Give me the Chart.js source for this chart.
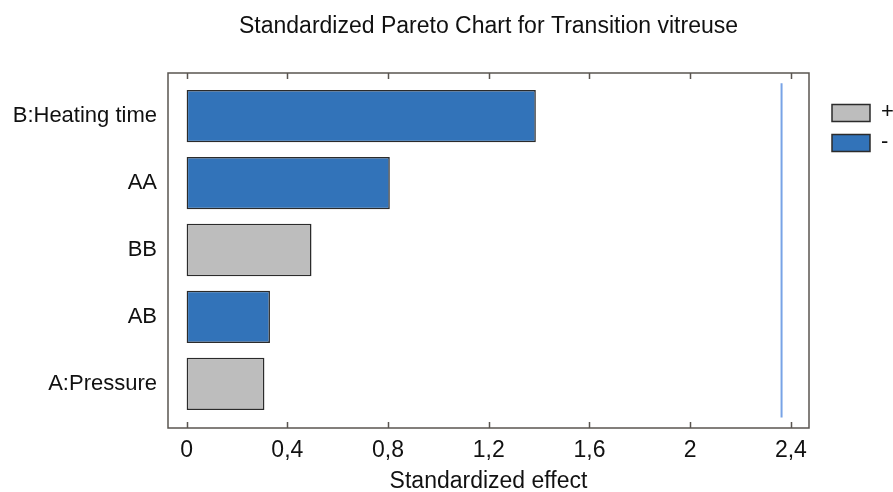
<!DOCTYPE html>
<html>
<head>
<meta charset="utf-8">
<script src="https://cdn.jsdelivr.net/npm/chart.js@4"></script>
<style>
  html, body { margin: 0; padding: 0; background: #fff; }
  #wrap { width: 893px; height: 492px; }
</style>
</head>
<body>
<div id="wrap"><canvas id="canvas" width="893" height="492"></canvas></div>
<script>
// Pareto chart data
var factors = ["B:Heating time", "AA", "BB", "AB", "A:Pressure"];
var effects = [1.387, 0.807, 0.496, 0.331, 0.309];
var signs = ["-", "-", "+", "-", "+"];
var tickValues = [0, 0.4, 0.8, 1.2, 1.6, 2, 2.4];
var criticalEffect = 2.363;
var criticalSpan = [-0.49, 4.5];

var FONT = "'Liberation Sans', Arial, sans-serif";
var colors = { "+": "#bdbdbd", "-": "#3273b9" };

function barData(sign) {
    var pts = [];
    for (var i = 0; i < factors.length; i++) {
        if (signs[i] === sign) pts.push({ x: effects[i], y: i });
    }
    return pts;
}

var barSets = ["+", "-"].map(function (s) {
    return {
        type: "bar",
        label: s,
        data: barData(s),
        backgroundColor: colors[s],
        borderColor: "#2b2b2b",
        borderWidth: 1.5,
        borderSkipped: false,
        grouped: false,
        barPercentage: 0.78,
        categoryPercentage: 1
    };
});

// frame with inward ticks + simple legend
var framePlugin = {
    id: "frame",
    afterDraw: function (chart) {
        var ctx = chart.ctx, a = chart.chartArea, xs = chart.scales.x;
        ctx.save();
        ctx.strokeStyle = "#5a5550";
        ctx.lineWidth = 1.5;
        ctx.strokeRect(a.left, a.top, a.right - a.left, a.bottom - a.top);
        ctx.beginPath();
        xs.ticks.forEach(function (t) {
            var px = Math.round(xs.getPixelForValue(t.value)) + 0.5;
            ctx.moveTo(px, a.top); ctx.lineTo(px, a.top + 6);
            ctx.moveTo(px, a.bottom); ctx.lineTo(px, a.bottom - 6);
        });
        ctx.stroke();

        // legend
        ctx.font = "22px " + FONT;
        ctx.textBaseline = "middle";
        barSets.forEach(function (ds, i) {
            var y = 104.5 + i * 30;
            ctx.fillStyle = ds.backgroundColor;
            ctx.fillRect(832, y, 38, 17);
            ctx.strokeStyle = "#2b2b2b";
            ctx.lineWidth = 1.5;
            ctx.strokeRect(832, y, 38, 17);
            ctx.fillStyle = "#111";
            ctx.fillText(ds.label, 881, y + 7.5);
        });
        ctx.restore();
    }
};

new Chart(document.getElementById("canvas"), {
    data: {
        datasets: barSets.concat([{
            type: "line",
            label: "critical",
            data: [{ x: criticalEffect, y: criticalSpan[0] }, { x: criticalEffect, y: criticalSpan[1] }],
            borderColor: "#78a3e6",
            borderWidth: 2,
            pointRadius: 0,
            fill: false
        }])
    },
    options: {
        indexAxis: "y",
        responsive: false,
        animation: false,
        layout: { padding: { left: 0, right: 84, top: 0, bottom: 0 } },
        plugins: {
            legend: { display: false },
            tooltip: { enabled: false },
            title: {
                display: true,
                fullSize: false,
                text: "Standardized Pareto Chart for Transition vitreuse",
                color: "#111",
                font: { family: FONT, size: 23, weight: "normal", lineHeight: 1.2 },
                padding: { top: 13, bottom: 32.4 }
            }
        },
        scales: {
            x: {
                type: "linear",
                position: "bottom",
                min: -0.074,
                max: 2.472,
                grid: { display: false, drawTicks: false },
                border: { display: false },
                afterBuildTicks: function (s) {
                    s.ticks = tickValues.map(function (v) { return { value: v }; });
                },
                afterFit: function (s) { s.height = 64; },
                ticks: {
                    padding: 9,
                    color: "#111",
                    font: { family: FONT, size: 23, lineHeight: 1.2 },
                    callback: function (v) { return String(v).replace(".", ","); }
                },
                title: {
                    display: true,
                    text: "Standardized effect",
                    color: "#111",
                    font: { family: FONT, size: 23, lineHeight: 1 },
                    padding: { top: 0, bottom: -1 }
                }
            },
            y: {
                type: "linear",
                reverse: true,
                offset: false,
                min: -0.642,
                max: 4.657,
                grid: { display: false, drawTicks: false, offset: false },
                border: { display: false },
                afterBuildTicks: function (s) {
                    s.ticks = factors.map(function (f, i) { return { value: i }; });
                },
                afterFit: function (s) { s.width = 168; },
                ticks: {
                    padding: 11,
                    color: "#111",
                    font: { family: FONT, size: 22 },
                    callback: function (v) { return factors[v]; }
                }
            }
        }
    },
    plugins: [framePlugin]
});
</script>
</body>
</html>
